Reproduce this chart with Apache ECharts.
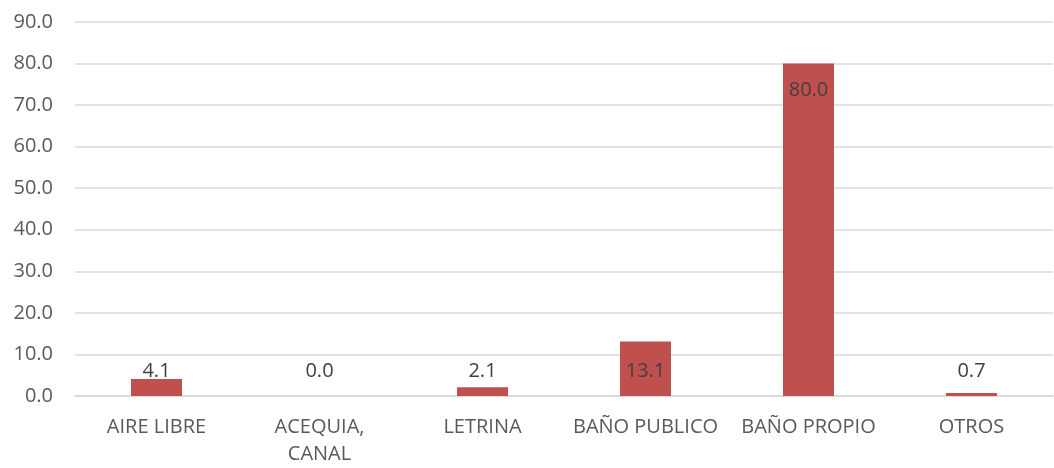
<!DOCTYPE html>
<html>
<head>
<meta charset="utf-8">
<script src="https://cdn.jsdelivr.net/npm/echarts@6/dist/echarts.min.js"></script>
<style>
html, body { margin: 0; padding: 0; background: #fff; }
#main { width: 1054px; height: 468px; }
</style>
</head>
<body>
<div id="main"></div>
<script>
// datos del grafico
const categories = ['AIRE LIBRE', 'ACEQUIA, CANAL', 'LETRINA', 'BAÑO PUBLICO', 'BAÑO PROPIO', 'OTROS'];
const values = [4.1, 0.0, 2.1, 13.1, 80.0, 0.7];
const yTicks = [0, 10, 20, 30, 40, 50, 60, 70, 80, 90];

let myChart = echarts.init(document.getElementById('main'));

// las barras altas llevan la etiqueta dentro, las bajas encima
let barData = values.map(v => {
    let big = v > 20;
    return {
        value: v,
        label: big
            ? { position: 'insideTop', distance: 17 }
            : { position: 'insideBottom', distance: 15 }
    };
});

let option = {
    animation: false,
    grid: { left: 75, right: 1, top: 22, bottom: 72 },
    xAxis: {
        type: 'category',
        data: categories,
        axisLine: { lineStyle: { color: '#d9d9d9', width: 1.5 } },
        axisTick: { show: false },
        axisLabel: {
            interval: 0,
            color: '#595959',
            fontSize: 20,
            fontFamily: 'Open Sans',
            margin: 18,
            lineHeight: 27,
            formatter: v => v.replace(', ', ',\n')
        }
    },
    yAxis: {
        type: 'value',
        min: yTicks[0],
        max: yTicks[yTicks.length - 1],
        interval: 10,
        splitLine: { lineStyle: { color: '#d9d9d9', width: 1.5 } },
        axisLine: { show: false },
        axisTick: { show: false },
        axisLabel: {
            color: '#595959',
            fontSize: 20,
            fontFamily: 'Open Sans',
            margin: 22,
            formatter: v => v.toFixed(1)
        }
    },
    series: [{
        type: 'bar',
        barWidth: 51,
        itemStyle: { color: '#C0504D' },
        label: {
            show: true,
            color: '#404040',
            fontSize: 20,
            fontFamily: 'Open Sans',
            formatter: p => p.value.toFixed(1)
        },
        data: barData
    }]
};
myChart.setOption(option);
</script>
</body>
</html>
